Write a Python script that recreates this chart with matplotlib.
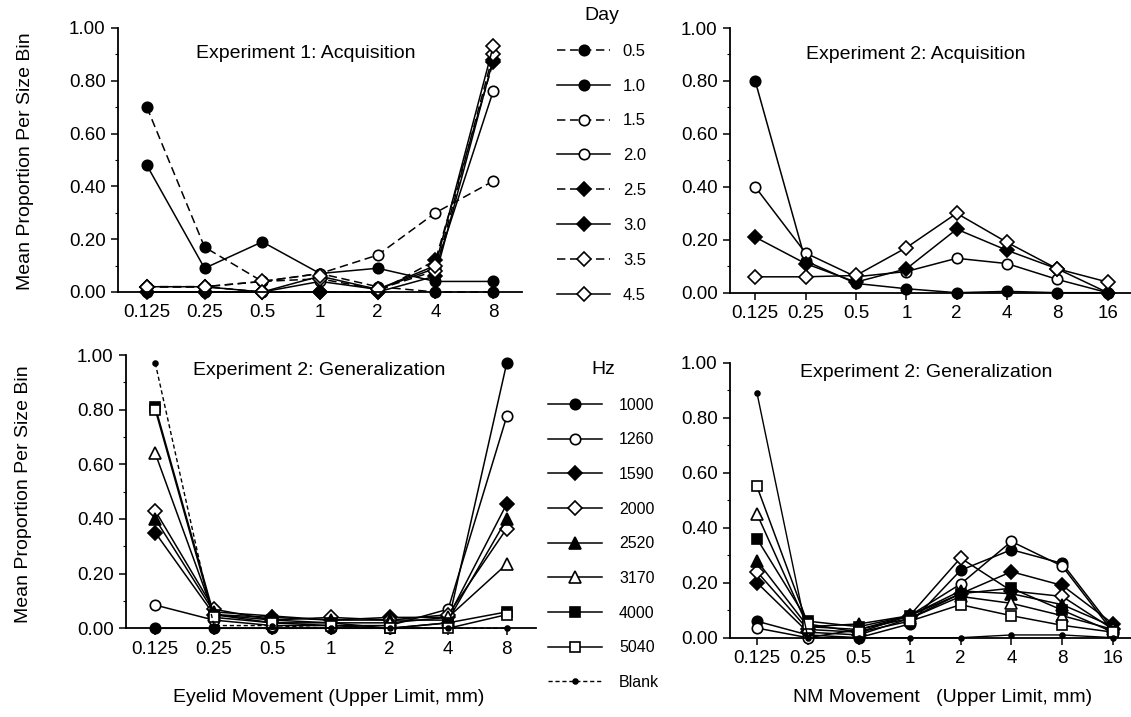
import numpy as np
import matplotlib
matplotlib.use("Agg")
import matplotlib.pyplot as plt

plt.rcParams['font.family'] = ['Liberation Sans', 'DejaVu Sans']

# bins (upper limit, mm)
eyelid_bins = ['0.125', '0.25', '0.5', '1', '2', '4', '8']
nm_bins = ['0.125', '0.25', '0.5', '1', '2', '4', '8', '16']

# Experiment 1: acquisition, by day
day_labels = ['0.5', '1.0', '1.5', '2.0', '2.5', '3.0', '3.5', '4.5']
day05 = [0.70, 0.17, 0.04, 0.07, 0.02, 0.00, 0.00]
day10 = [0.48, 0.09, 0.19, 0.07, 0.09, 0.04, 0.04]
day15 = [0.02, 0.02, 0.04, 0.07, 0.14, 0.30, 0.42]
day20 = [0.00, 0.00, 0.00, 0.04, 0.01, 0.09, 0.76]
day25 = [0.02, 0.02, 0.00, 0.00, 0.00, 0.12, 0.87]
day30 = [0.00, 0.00, 0.00, 0.00, 0.00, 0.06, 0.88]
day35 = [0.02, 0.02, 0.04, 0.05, 0.01, 0.08, 0.90]
day45 = [0.02, 0.02, 0.00, 0.06, 0.01, 0.10, 0.93]

# Experiment 2: acquisition (days 1.0, 2.0, 3.0, 4.5)
acq_day10 = [0.80, 0.12, 0.035, 0.015, 0.00, 0.005, 0.00, 0.00]
acq_day20 = [0.40, 0.15, 0.06, 0.08, 0.13, 0.11, 0.05, 0.00]
acq_day30 = [0.21, 0.11, 0.04, 0.09, 0.24, 0.16, 0.09, 0.00]
acq_day45 = [0.06, 0.06, 0.065, 0.17, 0.30, 0.19, 0.09, 0.04]

# Experiment 2: generalization, eyelid
hz_labels = ['1000', '1260', '1590', '2000', '2520', '3170', '4000', '5040', 'Blank']
eye1000 = [0.00, 0.00, 0.00, 0.00, 0.00, 0.02, 0.97]
eye1260 = [0.085, 0.03, 0.01, 0.01, 0.01, 0.07, 0.775]
eye1590 = [0.35, 0.05, 0.04, 0.03, 0.04, 0.04, 0.455]
eye2000 = [0.43, 0.07, 0.03, 0.04, 0.03, 0.05, 0.365]
eye2520 = [0.40, 0.06, 0.045, 0.03, 0.03, 0.03, 0.40]
eye3170 = [0.64, 0.05, 0.02, 0.02, 0.02, 0.04, 0.235]
eye4000 = [0.81, 0.05, 0.03, 0.02, 0.00, 0.02, 0.06]
eye5040 = [0.80, 0.04, 0.02, 0.01, 0.00, 0.00, 0.05]
eyeblank = [0.97, 0.01, 0.01, 0.00, 0.00, 0.00, 0.00]

# Experiment 2: generalization, NM
nm1000 = [0.06, 0.01, 0.00, 0.05, 0.245, 0.32, 0.27, 0.03]
nm1260 = [0.035, 0.00, 0.03, 0.08, 0.195, 0.35, 0.26, 0.02]
nm1590 = [0.20, 0.02, 0.01, 0.07, 0.16, 0.24, 0.19, 0.05]
nm2000 = [0.24, 0.03, 0.02, 0.08, 0.29, 0.17, 0.15, 0.03]
nm2520 = [0.28, 0.04, 0.05, 0.08, 0.17, 0.16, 0.12, 0.04]
nm3170 = [0.45, 0.04, 0.03, 0.07, 0.15, 0.125, 0.08, 0.03]
nm4000 = [0.36, 0.06, 0.04, 0.08, 0.16, 0.18, 0.10, 0.02]
nm5040 = [0.55, 0.05, 0.02, 0.06, 0.12, 0.08, 0.045, 0.02]
nmblank = [0.89, 0.00, 0.00, 0.00, 0.00, 0.01, 0.01, 0.00]

W, H = 1131, 717
fig = plt.figure(figsize=(W / 100, H / 100), dpi=100)

def px_rect(x0, y0, x1, y1):
    return [x0 / W, 1 - y1 / H, (x1 - x0) / W, (y1 - y0) / H]

ax1 = fig.add_axes(px_rect(118, 28, 522, 292))
ax2 = fig.add_axes(px_rect(730, 28, 1131, 292.7))
ax3 = fig.add_axes(px_rect(126, 355, 536, 628.3))
ax4 = fig.add_axes(px_rect(730, 362.7, 1131, 637.7))

DASH = (5.5, 3)

def style(key):
    return {
        'o': ('o', 7.5), 'D': ('D', 6.8), '^': ('^', 8), 's': ('s', 7.5), '.': ('o', 3.5),
    }[key]

def draw(ax, x, y, marker, filled, dashed=None, label=None, lw=1.1):
    m, ms = style(marker)
    line, = ax.plot(x, y, color='black', lw=lw, marker=m, markersize=ms,
                    markerfacecolor='black' if filled else 'white',
                    markeredgecolor='black', markeredgewidth=1.2,
                    clip_on=False, label=label)
    if dashed is not None:
        line.set_dashes(dashed)
    return line

def setup(ax, bins, xlim):
    ax.set_xlim(*xlim)
    ax.set_ylim(0, 1.0)
    ax.set_xticks(range(len(bins)))
    ax.set_xticklabels(bins)
    ax.set_yticks(np.arange(0, 1.01, 0.2))
    ax.set_yticklabels(['%.2f' % v for v in np.arange(0, 1.01, 0.2)])
    ax.set_yticks(np.arange(0.1, 1.0, 0.2), minor=True)
    for s in ['top', 'right']:
        ax.spines[s].set_visible(False)
    for s in ['left', 'bottom']:
        ax.spines[s].set_linewidth(1.3)
    ax.tick_params(axis='both', which='major', direction='out', length=5, width=1.1,
                   labelsize=13.5, pad=4)
    ax.tick_params(axis='y', which='minor', direction='out', length=2.5, width=0.8)
    ax.tick_params(axis='x', which='minor', bottom=False)

# panel 1
x = range(len(eyelid_bins))
day_series = [day05, day10, day15, day20, day25, day30, day35, day45]
day_marks = [('o', True, DASH), ('o', True, None), ('o', False, DASH), ('o', False, None),
             ('D', True, DASH), ('D', True, None), ('D', False, DASH), ('D', False, None)]
day_lines = []
for vals, (mk, fl, ds), lab in zip(day_series, day_marks, day_labels):
    day_lines.append(draw(ax1, x, vals, mk, fl, ds, lab))
setup(ax1, eyelid_bins, (-0.5, 6.5))
ax1.text(0.465, 0.905, 'Experiment 1: Acquisition', transform=ax1.transAxes,
         ha='center', va='center', fontsize=14)

# panel 2
x2 = range(len(nm_bins))
for vals, (mk, fl) in zip([acq_day10, acq_day20, acq_day30, acq_day45],
                          [('o', True), ('o', False), ('D', True), ('D', False)]):
    draw(ax2, x2, vals, mk, fl)
setup(ax2, nm_bins, (-0.5, 7.46))
ax2.text(0.464, 0.898, 'Experiment 2: Acquisition', transform=ax2.transAxes,
         ha='center', va='center', fontsize=14)

# panel 3
hz_marks = [('o', True), ('o', False), ('D', True), ('D', False),
            ('^', True), ('^', False), ('s', True), ('s', False)]
eye_series = [eye1000, eye1260, eye1590, eye2000, eye2520, eye3170, eye4000, eye5040]
hz_lines = []
for vals, (mk, fl), lab in zip(eye_series, hz_marks, hz_labels):
    hz_lines.append(draw(ax3, x, vals, mk, fl, None, lab))
hz_lines.append(draw(ax3, x, eyeblank, '.', True, (3, 2), 'Blank', lw=1.0))
setup(ax3, eyelid_bins, (-0.5, 6.5))
ax3.text(0.47, 0.945, 'Experiment 2: Generalization', transform=ax3.transAxes,
         ha='center', va='center', fontsize=14)

# panel 4
nm_series = [nm1000, nm1260, nm1590, nm2000, nm2520, nm3170, nm4000, nm5040]
for vals, (mk, fl) in zip(nm_series, hz_marks):
    draw(ax4, x2, vals, mk, fl)
draw(ax4, x2, nmblank, '.', True, None, lw=1.0)
setup(ax4, nm_bins, (-0.53, 7.35))
ax4.text(0.49, 0.963, 'Experiment 2: Generalization', transform=ax4.transAxes,
         ha='center', va='center', fontsize=14)

# legends
leg1 = fig.legend(handles=day_lines, loc='upper left', bbox_to_anchor=(557 / W, 1 - 7 / H),
                  frameon=False, title='Day', title_fontsize=14, fontsize=12,
                  handlelength=3.2, handletextpad=0.75, labelspacing=1.19,
                  borderpad=0, borderaxespad=0, numpoints=1)
leg2 = fig.legend(handles=hz_lines, loc='upper left', bbox_to_anchor=(548 / W, 1 - 361 / H),
                  frameon=False, title='Hz', title_fontsize=14, fontsize=11.5,
                  handlelength=3.4, handletextpad=1.05, labelspacing=1.23,
                  borderpad=0, borderaxespad=0, numpoints=1)

# axis labels
fig.text(26 / W, 1 - 161 / H, 'Mean Proportion Per Size Bin', rotation=90,
         ha='center', va='center', fontsize=14)
fig.text(24 / W, 1 - 494 / H, 'Mean Proportion Per Size Bin', rotation=90,
         ha='center', va='center', fontsize=14)
fig.text(329 / W, 1 - 697 / H, 'Eyelid Movement (Upper Limit, mm)',
         ha='center', va='center', fontsize=14)
fig.text(943 / W, 1 - 698 / H, 'NM Movement   (Upper Limit, mm)',
         ha='center', va='center', fontsize=14)

fig.savefig('out.png', dpi=100)
